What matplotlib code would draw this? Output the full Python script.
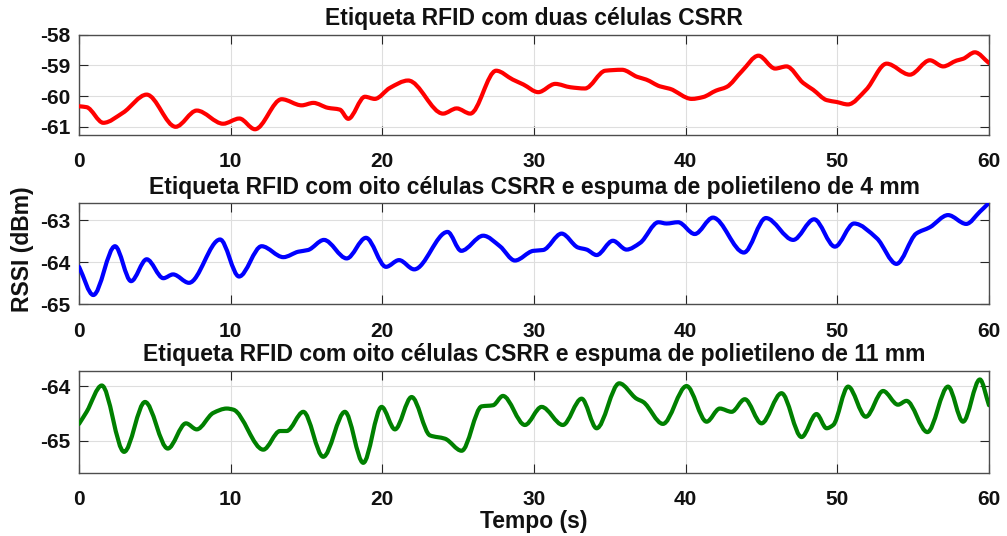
import numpy as np
import matplotlib
matplotlib.use("Agg")
import matplotlib.pyplot as plt
from matplotlib.path import Path
from matplotlib.patches import PathPatch

plt.rcParams['font.family'] = ['Liberation Sans', 'DejaVu Sans']
plt.rcParams['font.weight'] = 'bold'
plt.rcParams['axes.unicode_minus'] = False

# --- RSSI readings (time in s, RSSI in dBm) ---
t_duas = [0, 0.5, 1.6, 2.9, 4.46, 6.37, 7.76, 9.5, 10.57, 11.6, 13.36, 14.68,
          15.45, 16.4, 17.2, 17.75, 18.85, 19.5, 20.5, 21.7, 24.0, 24.9, 25.8,
          27.5, 28.6, 29.3, 30.28, 31.4, 32.4, 33.36, 34.7, 35.8, 36.8, 37.4,
          38.3, 38.96, 40.4, 41.15, 42.0, 42.7, 43.7, 44.8, 45.9, 46.65, 47.75,
          48.4, 49.3, 49.95, 50.7, 51.9, 53.25, 54.78, 56.1, 56.98, 57.86,
          58.3, 59.07, 60]
rssi_duas = [-60.33, -60.36, -60.87, -60.54, -59.95, -61.0, -60.47, -60.9,
             -60.73, -61.08, -60.1, -60.3, -60.22, -60.38, -60.44, -60.74,
             -60.02, -60.09, -59.73, -59.49, -60.57, -60.4, -60.57, -59.17,
             -59.46, -59.62, -59.87, -59.6, -59.71, -59.75, -59.17, -59.14,
             -59.37, -59.46, -59.68, -59.76, -60.09, -60.03, -59.82, -59.7,
             -59.19, -58.68, -59.1, -59.03, -59.57, -59.79, -60.13, -60.19,
             -60.27, -59.79, -58.94, -59.3, -58.83, -59.03, -58.84, -58.78,
             -58.57, -58.92]

t_4mm = [0, 0.94, 2.37, 3.43, 4.46, 5.56, 6.2, 7.25, 9.3, 10.55, 12.04, 13.47,
         14.46, 15.1, 16.15, 17.65, 18.92, 20.24, 21.1, 22.1, 24.3, 25.2,
         26.65, 27.75, 28.74, 29.95, 30.6, 31.82, 32.9, 33.47, 34.13, 35.2,
         36.1, 37.0, 38.2, 38.74, 39.5, 40.6, 41.8, 43.84, 45.29, 47.09,
         48.47, 49.84, 51.1, 52.6, 53.9, 55.2, 56.1, 57.3, 58.5, 59.4, 60]
rssi_4mm = [-64.11, -64.78, -63.62, -64.45, -63.93, -64.38, -64.29, -64.49,
            -63.46, -64.34, -63.62, -63.88, -63.75, -63.71, -63.47, -63.91,
            -63.42, -64.11, -63.95, -64.17, -63.28, -63.73, -63.37, -63.62,
            -63.96, -63.73, -63.71, -63.32, -63.65, -63.7, -63.83, -63.49,
            -63.7, -63.54, -63.05, -63.08, -63.05, -63.33, -62.94, -63.77,
            -62.95, -63.47, -62.98, -63.63, -63.08, -63.43, -64.04, -63.32,
            -63.17, -62.88, -63.09, -62.8, -62.59]

t_11mm = [0, 0.5, 1.5, 2.97, 4.35, 5.85, 7.05, 7.76, 8.85, 9.74, 10.17, 12.15,
          13.25, 13.69, 14.79, 16.1, 17.53, 18.74, 19.95, 20.83, 21.93, 23.14,
          24.13, 25.23, 26.55, 27.3, 27.95, 29.4, 30.5, 31.9, 33.14, 34.13,
          35.62, 36.76, 37.2, 38.5, 40.06, 41.38, 42.25, 43.03, 43.9, 45.0,
          46.32, 47.64, 48.63, 49.29, 49.73, 50.71, 51.88, 53.02, 54.0, 54.56,
          55.94, 57.3, 58.29, 59.4, 60]
rssi_11mm = [-64.69, -64.47, -63.99, -65.2, -64.29, -65.14, -64.68, -64.79,
             -64.49, -64.41, -64.43, -65.16, -64.82, -64.82, -64.47, -65.29,
             -64.47, -65.4, -64.38, -64.79, -64.2, -64.9, -64.96, -65.18,
             -64.37, -64.35, -64.18, -64.71, -64.38, -64.71, -64.23, -64.77,
             -63.95, -64.23, -64.29, -64.69, -64.0, -64.65, -64.41, -64.47,
             -64.24, -64.68, -64.13, -64.93, -64.51, -64.77, -64.71, -64.01,
             -64.56, -64.09, -64.34, -64.27, -64.84, -64.01, -64.65, -63.88,
             -64.35]

titles = ["Etiqueta RFID com duas células CSRR",
          "Etiqueta RFID com oito células CSRR e espuma de polietileno de 4 mm",
          "Etiqueta RFID com oito células CSRR e espuma de polietileno de 11 mm"]
colors = ["#ff0000", "#0000ff", "#008000"]
ylims = [(-61.27, -58.0), (-65.0, -62.6), (-65.58, -63.72)]
yticks = [[-61, -60, -59, -58], [-65, -64, -63], [-65, -64]]
xticks = [0, 10, 20, 30, 40, 50, 60]


def smooth_path(x, y):
    """Piecewise cubic Bezier path through (x, y) using monotone Hermite slopes."""
    x = np.asarray(x, float)
    y = np.asarray(y, float)
    h = np.diff(x)
    d = np.diff(y) / h
    m = np.zeros_like(y)
    m[0], m[-1] = d[0], d[-1]
    for k in range(1, len(x) - 1):
        if d[k - 1] * d[k] > 0:
            w1 = 2 * h[k] + h[k - 1]
            w2 = h[k] + 2 * h[k - 1]
            m[k] = (w1 + w2) / (w1 / d[k - 1] + w2 / d[k])
    verts = [(x[0], y[0])]
    codes = [Path.MOVETO]
    for k in range(len(x) - 1):
        verts += [(x[k] + h[k] / 3, y[k] + m[k] * h[k] / 3),
                  (x[k + 1] - h[k] / 3, y[k + 1] - m[k + 1] * h[k] / 3),
                  (x[k + 1], y[k + 1])]
        codes += [Path.CURVE4] * 3
    return Path(verts, codes)


W, H = 1007, 536
fig = plt.figure(figsize=(W / 100, H / 100), dpi=100)
left, width = 0.0785, 0.9036
boxes = [(0.748, 0.187), (0.4323, 0.1884), (0.1181, 0.1903)]
series = [(t_duas, rssi_duas), (t_4mm, rssi_4mm), (t_11mm, rssi_11mm)]
text_col = '#111111'

for i, ((b, hgt), (tx, ry)) in enumerate(zip(boxes, series)):
    ax = fig.add_axes([left, b, width, hgt])
    ax.add_patch(PathPatch(smooth_path(tx, ry), facecolor='none',
                           edgecolor=colors[i], lw=3.0, capstyle='round',
                           joinstyle='round', zorder=3))
    ax.set_xlim(0, 60)
    ax.set_ylim(*ylims[i])
    ax.set_xticks(xticks)
    ax.set_yticks(yticks[i])
    ax.grid(True, color='#dedede', lw=0.8)
    ax.set_axisbelow(True)
    ax.tick_params(direction='in', length=6.5, width=0.8, top=True, right=True,
                   labelsize=15, colors='#262626', labelcolor=text_col)
    ax.tick_params(axis='x', pad=12.5)
    ax.tick_params(axis='y', pad=6)
    for lab in ax.get_xticklabels() + ax.get_yticklabels():
        lab.set_fontweight('bold')
    for s in ax.spines.values():
        s.set_color('#4d4d4d')
        s.set_linewidth(1.0)
    ax.annotate(titles[i], xy=(0.5, 1.0), xycoords='axes fraction',
                xytext=(0, 6.8), textcoords='offset points',
                ha='center', va='baseline', fontsize=16.5, fontweight='bold',
                color=text_col)

fig.text(22 / W, 1 - 249 / H, "RSSI (dBm)", rotation=90, ha='center',
         va='center', fontsize=16.5, fontweight='bold', color=text_col)
fig.text(534 / W, 1 - 528 / H, "Tempo (s)", ha='center', va='baseline',
         fontsize=16.5, fontweight='bold', color=text_col)

fig.savefig("out.png", dpi=100)
